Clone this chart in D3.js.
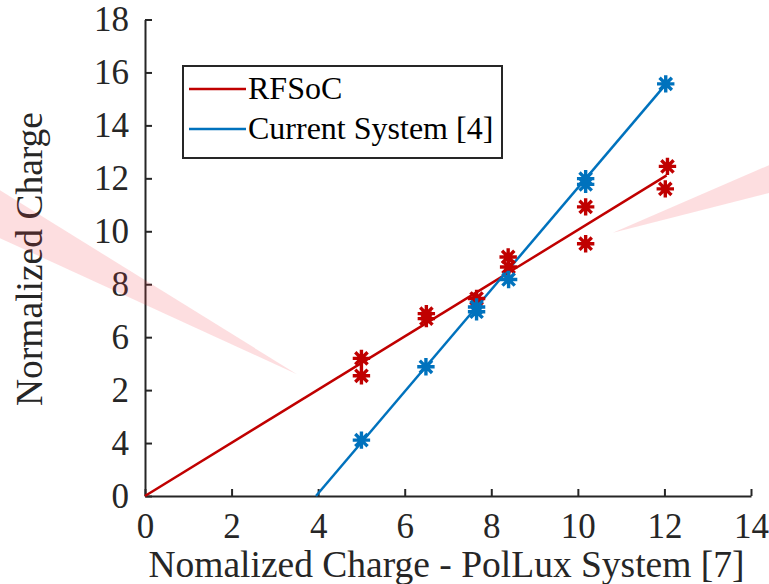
<!DOCTYPE html>
<html>
<head>
<meta charset="utf-8">
<script src="https://cdn.jsdelivr.net/npm/d3@7"></script>
<style>
  html, body { margin: 0; padding: 0; background: #fff; }
  svg { display: block; }
</style>
</head>
<body>
<svg id="chart" width="769" height="584"></svg>
<script>
// x ticks and the (odd) y tick labels as printed on the figure
const x_ticks = [0, 2, 4, 6, 8, 10, 12, 14];
const y_ticks = [0, 2, 4, 6, 8, 10, 12, 14, 16, 18];
const y_tick_labels = ["0", "4", "2", "6", "8", "10", "12", "14", "16", "18"];

// measured points
const rfsoc_x = [5.0, 5.0, 6.5, 6.5, 7.66, 8.39, 8.4, 10.18, 10.18, 12.07, 12.02];
const rfsoc_y = [5.2, 4.54, 6.89, 6.7, 7.46, 9.03, 8.65, 10.92, 9.53, 12.45, 11.6];
const current_x = [5.0, 6.49, 7.66, 7.66, 8.4, 10.18, 10.18, 12.03];
const current_y = [2.11, 4.88, 7.14, 6.96, 8.18, 11.99, 11.77, 15.57];

// fitted lines (end points)
const rfsoc_fit = [{ x: 0, y: 0 }, { x: 12.05, y: 12.11 }];
const current_fit = [{ x: 3.95, y: 0 }, { x: 12.03, y: 15.55 }];

// pink wedges (stray annotation shapes), in data units
const wedge_left = [[-3.35, 11.55], [3.51, 4.6], [-3.35, 9.74]];
const wedge_right = [[10.81, 9.94], [14.42, 12.5], [14.42, 11.45]];

const series = [
  { name: "RFSoC", color: "#c00000", xs: rfsoc_x, ys: rfsoc_y, fit: rfsoc_fit },
  { name: "Current System [4]", color: "#0072bd", xs: current_x, ys: current_y, fit: current_fit },
];

const font = '"Liberation Serif", "Times New Roman", serif';
const axis_color = "#262626";
const svg = d3.select("#chart");

const x = d3.scaleLinear().domain([0, 14]).range([145, 751]);
const y = d3.scaleLinear().domain([0, 18]).range([496, 19.5]);

// axes
const x_axis = svg
  .append("g")
  .attr("transform", `translate(0,${y(0)})`)
  .call(d3.axisBottom(x).tickValues(x_ticks).tickSizeInner(-7).tickSizeOuter(0).tickPadding(17));

const y_axis = svg
  .append("g")
  .attr("transform", `translate(${x(0)},0)`)
  .call(
    d3
      .axisLeft(y)
      .tickValues(y_ticks)
      .tickFormat((d, i) => y_tick_labels[i])
      .tickSizeInner(-7)
      .tickSizeOuter(0)
      .tickPadding(16)
  );

[x_axis, y_axis].forEach((g) => {
  g.attr("font-family", null);
  g.select(".domain").attr("stroke", axis_color).attr("stroke-width", 2);
  g.selectAll(".tick line").attr("stroke", axis_color).attr("stroke-width", 2);
  g.selectAll(".tick text")
    .attr("fill", axis_color)
    .style("font-family", font)
    .style("font-size", "35px");
});

// axis titles
svg
  .append("text")
  .attr("x", 446.5)
  .attr("y", 577)
  .attr("text-anchor", "middle")
  .attr("fill", axis_color)
  .style("font-family", font)
  .style("font-size", "37.5px")
  .text("Nomalized Charge - PolLux System [7]");

svg
  .append("text")
  .attr("transform", "translate(42,259) rotate(-90)")
  .attr("text-anchor", "middle")
  .attr("fill", axis_color)
  .style("font-family", font)
  .style("font-size", "37.5px")
  .text("Normalized Charge");

// fit lines
const line = d3
  .line()
  .x((d) => x(d.x))
  .y((d) => y(d.y));

series.forEach((s) => {
  svg
    .append("path")
    .datum(s.fit)
    .attr("fill", "none")
    .attr("stroke", s.color)
    .attr("stroke-width", 2.5)
    .attr("d", line);
});

// asterisk markers
function star(r) {
  const a = r * Math.SQRT1_2;
  return `M${-r},0L${r},0M0,${-r}L0,${r}M${-a},${-a}L${a},${a}M${-a},${a}L${a},${-a}`;
}

series.forEach((s) => {
  const pts = d3.zip(s.xs, s.ys);
  svg
    .append("g")
    .selectAll("path")
    .data(pts)
    .join("path")
    .attr("transform", (d) => `translate(${x(d[0])},${y(d[1])})`)
    .attr("d", star(7))
    .attr("fill", "none")
    .attr("stroke", s.color)
    .attr("stroke-width", 3.4)
    .attr("stroke-linecap", "square");
});

// legend
const legend = svg.append("g");
legend
  .append("rect")
  .attr("x", 183)
  .attr("y", 66)
  .attr("width", 319)
  .attr("height", 92)
  .attr("fill", "#fff")
  .attr("stroke", axis_color)
  .attr("stroke-width", 2);

series.forEach((s, i) => {
  const ly = 89 + i * 40;
  legend
    .append("line")
    .attr("x1", 189)
    .attr("x2", 246)
    .attr("y1", ly)
    .attr("y2", ly)
    .attr("stroke", s.color)
    .attr("stroke-width", 2.5);
  legend
    .append("text")
    .attr("x", 248)
    .attr("y", ly + 10)
    .attr("fill", "#000")
    .style("font-family", font)
    .style("font-size", "32px")
    .text(s.name);
});

// translucent pink wedges drawn over the figure
[wedge_left, wedge_right].forEach((w) => {
  svg
    .append("path")
    .attr("d", "M" + w.map((p) => `${x(p[0])},${y(p[1])}`).join("L") + "Z")
    .attr("fill", "rgb(245,60,70)")
    .attr("fill-opacity", 0.17);
});
</script>
</body>
</html>
